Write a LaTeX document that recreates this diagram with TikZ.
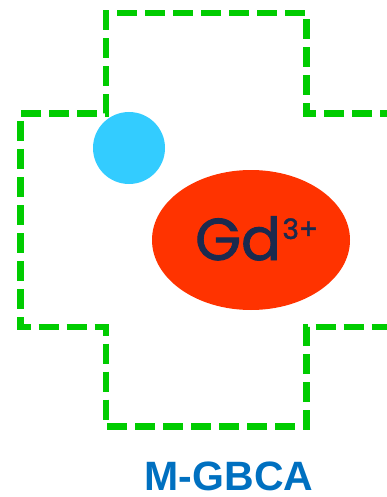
\documentclass[tikz,border=0pt]{standalone}
\usepackage{fontspec}
\setmainfont{Liberation Sans}
\newfontfamily\ionfont[FakeBold=1.6]{Poppins}
\usepackage{xcolor}
\usetikzlibrary{positioning, shapes.geometric}

\definecolor{pocketgreen}{HTML}{00CC00}
\definecolor{waterblue}{HTML}{33CCFF}
\definecolor{ionred}{HTML}{FF3300}
\definecolor{ionnavy}{HTML}{1B2A4E}
\definecolor{labelblue}{HTML}{0070C0}

\begin{document}
\begin{tikzpicture}[
	x=1pt, y=-1pt,
	% Define styles for the parts
	pocket/.style={
		draw=pocketgreen,
		line width=6.5pt,
		dash pattern=on 20pt off 8pt,
		line join=miter
	},
	water/.style={
		circle,
		fill=waterblue,
		inner sep=0pt,
		minimum size=72pt
	},
	ion/.style={
		ellipse,
		fill=ionred,
		inner sep=0pt,
		minimum width=198pt,
		minimum height=140pt
	},
	ion_text/.style={
		font=\ionfont\fontsize{59}{59}\selectfont\color{ionnavy},
		inner sep=0pt
	},
	name_text/.style={
		font=\bfseries\fontsize{41}{41}\selectfont\color{labelblue},
		inner sep=0pt
	}
	]
	
	\useasboundingbox (0,0) rectangle (387,497);
	\begin{scope}
	\clip (0,0) rectangle (387,497);
	% --- 1. BINDING POCKET ---
	\draw[pocket] (400,113.5) -- (306.5,113.5) -- (306.5,13) -- (106,13) -- (106,113.5)
		-- (20.5,113.5) -- (20.5,327) -- (106,327) -- (106,426.5) -- (306.5,426.5)
		-- (306.5,327) -- (400,327);
	\end{scope}
	
	% --- 2. WATER MOLECULE ---
	\node[water] (water) at (129,148) {};
	
	% --- 3. GADOLINIUM ION ---
	\node[ion] (gd) at (251,240) {};
	\node[ion_text, anchor=base west] (gd_text) at (195,260)
		{Gd\hspace{1.5pt}\raisebox{21pt}{\fontsize{28}{28}\selectfont 3+}};
	
	% --- 4. AGENT NAME ---
	\node[name_text, anchor=base] (agent) at (229,490) {M-GBCA};
	
\end{tikzpicture}
\end{document}
